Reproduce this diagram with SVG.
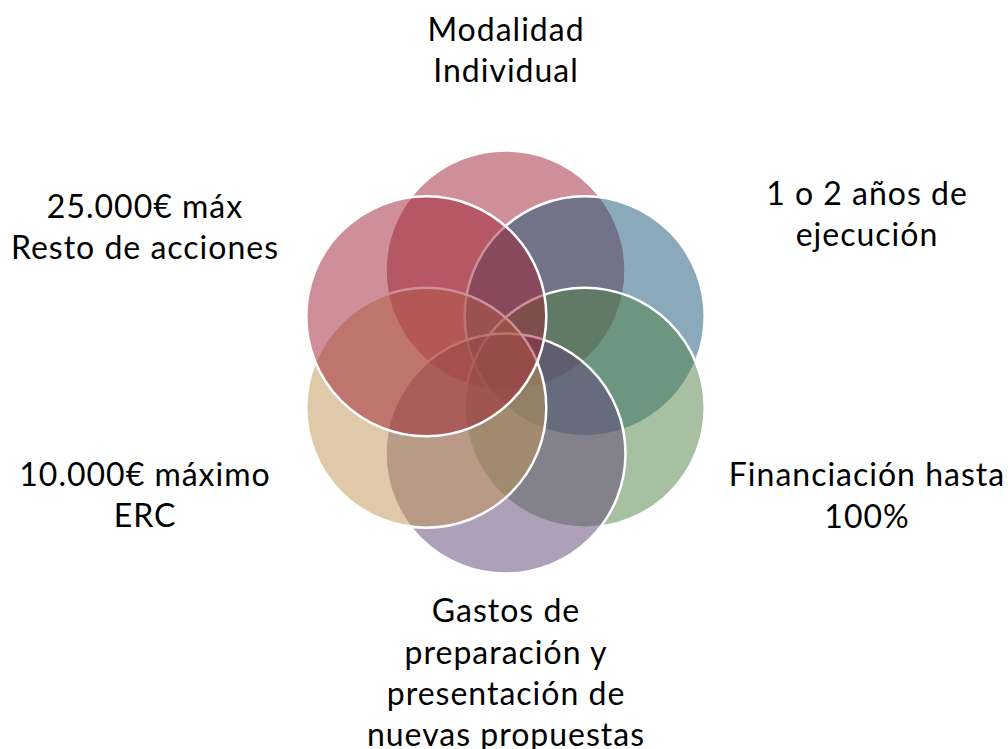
<svg xmlns="http://www.w3.org/2000/svg" width="1008" height="749" viewBox="0 0 1008 749">
<style>
.c{stroke:#fff;stroke-width:2.5;fill-opacity:0.5}
.t{font-family:Lato,"Liberation Sans",sans-serif;font-size:32px;letter-spacing:1px;fill:#000;text-anchor:middle}
</style>
<rect width="1008" height="749" fill="#fff"/>
<g id="n1"><circle class="c" cx="505.5" cy="270.5" r="120" fill="#9D1F31"/></g>
<g id="n2"><circle class="c" cx="584.7" cy="316.3" r="120" fill="#155579"/></g>
<g id="n3"><circle class="c" cx="584.7" cy="407.7" r="120" fill="#4D8143"/></g>
<g id="n4"><circle class="c" cx="505.5" cy="453.5" r="120" fill="#5F4175"/></g>
<g id="n5"><circle class="c" cx="426.3" cy="407.7" r="120" fill="#C19353"/></g>
<g id="n6"><circle class="c" cx="426.3" cy="316.3" r="120" fill="#9D1F31"/></g>
<g id="labels">
<text class="t" x="506" y="41">Modalidad</text>
<text class="t" x="506" y="82">Individual</text>
<text class="t" x="867" y="205">1 o 2 años de</text>
<text class="t" x="867" y="246">ejecución</text>
<text class="t" x="867" y="486">Financiación hasta</text>
<text class="t" x="867" y="528">100%</text>
<text class="t" x="506" y="622">Gastos de</text>
<text class="t" x="506" y="664">preparación y</text>
<text class="t" x="506" y="705">presentación de</text>
<text class="t" x="506" y="746">nuevas propuestas</text>
<text class="t" x="145" y="486">10.000€ máximo</text>
<text class="t" x="145" y="527">ERC</text>
<text class="t" x="145" y="218">25.000€ máx</text>
<text class="t" x="145" y="259">Resto de acciones</text>
</g>
</svg>
